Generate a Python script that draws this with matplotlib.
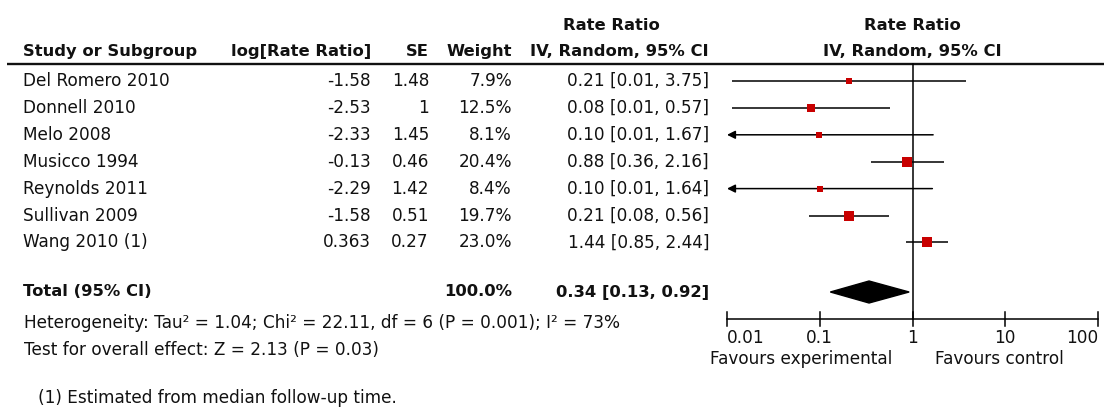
import numpy as np
import matplotlib
matplotlib.use("Agg")
import matplotlib.pyplot as plt

# ---------------- data ----------------
studies = ["Del Romero 2010", "Donnell 2010", "Melo 2008", "Musicco 1994",
           "Reynolds 2011", "Sullivan 2009", "Wang 2010 (1)"]
log_rr = [-1.58, -2.53, -2.33, -0.13, -2.29, -1.58, 0.363]
se = [1.48, 1, 1.45, 0.46, 1.42, 0.51, 0.27]
weights = [7.9, 12.5, 8.1, 20.4, 8.4, 19.7, 23.0]
rr = [0.21, 0.08, 0.10, 0.88, 0.10, 0.21, 1.44]
ci_lo = [0.01, 0.01, 0.01, 0.36, 0.01, 0.08, 0.85]
ci_hi = [3.75, 0.57, 1.67, 2.16, 1.64, 0.56, 2.44]
total_label = "Total (95% CI)"
total_weight = 100.0
total_rr = 0.34
total_lo = 0.13
total_hi = 0.92
heterogeneity = "Heterogeneity: Tau² = 1.04; Chi² = 22.11, df = 6 (P = 0.001); I² = 73%"
overall = "Test for overall effect: Z = 2.13 (P = 0.03)"
footnote = "(1) Estimated from median follow-up time."
axis_ticks = [0.01, 0.1, 1, 10, 100]
axis_ticklabels = ["0.01", "0.1", "1", "10", "100"]
favours_left = "Favours experimental"
favours_right = "Favours control"

# ---------------- layout ----------------
W, H = 1104, 412
fig = plt.figure(figsize=(W / 100, H / 100), dpi=100)
fig.patch.set_facecolor("white")
ax = fig.add_axes([0, 0, 1, 1])
ax.set_xlim(0, W)
ax.set_ylim(H, 0)
ax.axis("off")

FX0, FX1 = 727, 1098
axf = fig.add_axes([FX0 / W, 0, (FX1 - FX0) / W, 1])
axf.set_xscale("log")
axf.set_xlim(0.01, 100)
axf.set_ylim(H, 0)
axf.axis("off")

plt.rcParams["font.family"] = ["DejaVu Sans"]
FS = 12.2
FB = 11.8
TXT = "#111111"
RED = "#C80000"

def t(x, y, s, ha="left", bold=False, size=None, a=ax):
    a.text(x, y, s, ha=ha, va="center", fontsize=size or (FB if bold else FS),
           fontweight="bold" if bold else "normal", color=TXT, clip_on=False)

# headers
t(611, 25, "Rate Ratio", ha="center", bold=True)
t(912, 25, "Rate Ratio", ha="center", bold=True)
t(23, 51, "Study or Subgroup", bold=True)
t(371, 51, "log[Rate Ratio]", ha="right", bold=True)
t(429, 51, "SE", ha="right", bold=True)
t(512, 51, "Weight", ha="right", bold=True)
t(709, 51, "IV, Random, 95% CI", ha="right", bold=True)
t(912, 51, "IV, Random, 95% CI", ha="center", bold=True)
ax.plot([7, W], [64, 64], color="#111111", lw=1.7, solid_capstyle="butt")

row_y = [81 + 26.9 * i for i in range(len(studies))]
for i, name in enumerate(studies):
    y = row_y[i]
    t(23, y, name)
    t(371, y, f"{log_rr[i]:g}", ha="right")
    t(429, y, f"{se[i]:g}", ha="right")
    t(512, y, f"{weights[i]:.1f}%", ha="right")
    t(709, y, f"{rr[i]:.2f} [{ci_lo[i]:.2f}, {ci_hi[i]:.2f}]", ha="right")

    est = np.exp(log_rr[i])
    lo = np.exp(log_rr[i] - 1.96 * se[i])
    hi = np.exp(log_rr[i] + 1.96 * se[i])
    if lo < 0.01:
        axf.annotate("", xy=(0.01, y), xytext=(hi, y),
                     arrowprops=dict(arrowstyle="-|>", color="black", lw=1.1,
                                     mutation_scale=12, shrinkA=0, shrinkB=0),
                     annotation_clip=False)
    else:
        axf.plot([lo, hi], [y, y], color="black", lw=1.1, clip_on=False,
                 solid_capstyle="butt")
    side_px = 2.15 * np.sqrt(weights[i])
    axf.plot([est], [y], marker="s", ms=side_px * 0.72, color=RED,
             mec=RED, mew=0, clip_on=False, zorder=5)

# total row
ty = 292
t(23, ty, total_label, bold=True)
t(512, ty, f"{total_weight:.1f}%", ha="right", bold=True)
t(709, ty, f"{total_rr:.2f} [{total_lo:.2f}, {total_hi:.2f}]", ha="right", bold=True)
axf.fill([total_lo, total_rr, total_hi, total_rr], [ty, ty - 11, ty, ty + 11],
         color="black", clip_on=False, zorder=5)

t(24, 323, heterogeneity)
t(24, 350, overall)
t(38, 398, footnote)

# null line and axis
axy = 319
axf.plot([1, 1], [64, axy], color="black", lw=1.1, clip_on=False)
axf.plot([0.01, 100], [axy, axy], color="black", lw=1.1, clip_on=False)
for tk, tl in zip(axis_ticks, axis_ticklabels):
    axf.plot([tk, tk], [axy - 7, axy + 7], color="black", lw=1.1, clip_on=False)
    ha = "left" if tk == axis_ticks[0] else ("right" if tk == axis_ticks[-1] else "center")
    t(tk, 338, tl, ha=ha, a=axf)
t(0.6, 359, favours_left, ha="right", a=axf)
t(1.75, 359, favours_right, ha="left", a=axf)

fig.savefig("out.png", dpi=100, facecolor="white")
